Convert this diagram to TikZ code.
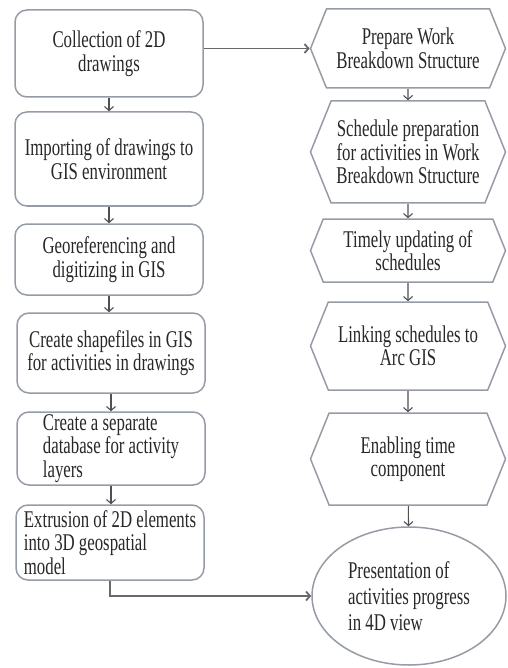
\documentclass[tikz,border=0pt]{standalone}
\usepackage{fontspec}
\setmainfont[FakeStretch=0.70]{Liberation Serif}
\usetikzlibrary{shapes.symbols,shapes.geometric,arrows.meta}

\definecolor{boxgray}{RGB}{150,156,166}
\definecolor{arrgray}{RGB}{80,80,80}
\definecolor{linkgray}{RGB}{105,105,105}
\definecolor{inkgray}{RGB}{40,40,40}

\begin{document}
\begin{tikzpicture}[x=1pt, y=-1pt, line width=1.5pt,
  textfont/.style={font=\fontsize{24}{23.5}\selectfont, text=inkgray},
  box/.style={draw=boxgray, rounded corners=12pt, fill=white, minimum width=188pt, inner sep=0pt, align=center, textfont},
  hexa/.style={draw=boxgray, shape=signal, signal to=west and east, signal pointer angle=136, fill=white, minimum width=195pt, inner sep=0pt, align=center, textfont},
  oval/.style={draw=boxgray, ellipse, fill=white, minimum width=194pt, minimum height=138pt, inner sep=0pt, align=left, textfont, font=\fontsize{24}{26}\selectfont},
  arr/.style={-{Straight Barb[length=4pt,width=9pt]}, draw=arrgray, line width=1.1pt},
  link/.style={-{Straight Barb[length=4pt,width=9pt]}, draw=linkgray, line width=1.8pt}]
\useasboundingbox (0,0) rectangle (507,668);

% left column
\node[box, minimum height=87pt] (collect) at (109,53.5) {Collection of 2D\\drawings};
\node[box, minimum height=94pt] (import) at (109,159) {Importing of drawings to\\GIS environment};
\node[box, minimum height=71pt] (georef) at (109,259.5) {Georeferencing and\\digitizing in GIS};
\node[box, minimum height=80pt] (shapes) at (111,353) {Create shapefiles in GIS\\for activities in drawings};
\node[box, minimum height=73pt, align=left] (database) at (111,448.5) {Create a separate\\database for activity\\layers};
\node[box, minimum height=75pt, align=left] (extrude) at (110,542.5) {Extrusion of 2D elements\\into 3D geospatial\\model};

% right column
\node[hexa, minimum height=79pt] (wbs) at (408,48.5) {Prepare Work\\Breakdown Structure};
\node[hexa, minimum height=102pt] (sched) at (408,152) {Schedule preparation\\for activities in Work\\Breakdown Structure};
\node[hexa, minimum height=63pt] (update) at (408,250.5) {Timely updating of\\schedules};
\node[hexa, minimum height=88pt] (linking) at (408,346) {Linking schedules to\\Arc GIS};
\node[hexa, minimum height=92pt] (enable) at (408,459) {Enabling time\\component};
\node[oval] (present) at (409,596) {Presentation of\\activities progress\\in 4D view};

% connectors
\draw[arr] (collect) -- (import);
\draw[arr] (import) -- (georef);
\draw[arr] (georef) -- (georef |- shapes.north);
\draw[arr] (shapes.south) -- (shapes.south |- database.north);
\draw[arr] (database.south) -- (database.south |- extrude.north);

\draw[arr] (wbs) -- (sched);
\draw[arr] (sched) -- (update);
\draw[arr] (update) -- (linking);
\draw[arr] (linking) -- (enable);
\draw[arr] (enable) -- (present);

\draw[link] (collect.east |- wbs.west) -- (wbs.west);
\draw[link] (extrude.south) |- (present.west);
\end{tikzpicture}
\end{document}
